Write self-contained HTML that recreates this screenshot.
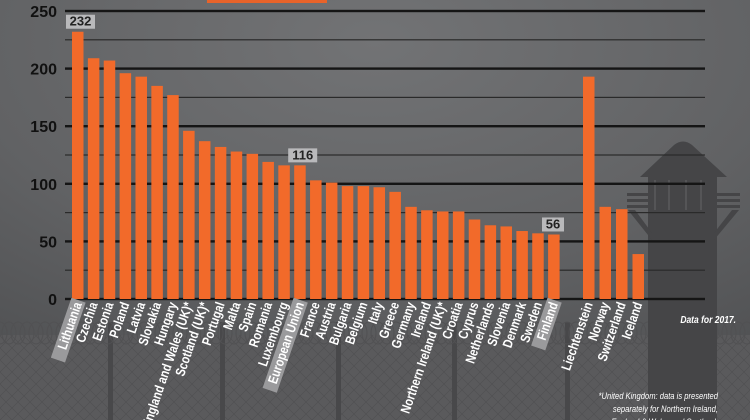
<!DOCTYPE html>
<html><head><meta charset="utf-8"><style>
html,body{margin:0;padding:0;width:750px;height:420px;overflow:hidden;background:#555}
svg{display:block}
text{font-family:"Liberation Sans",sans-serif}
</style></head><body>
<svg id="s" width="750" height="420" viewBox="0 0 750 420" xmlns="http://www.w3.org/2000/svg">
<defs>
<radialGradient id="bg" cx="0.5" cy="0.1" r="0.9">
<stop offset="0" stop-color="#727375"/><stop offset="0.6" stop-color="#616264"/><stop offset="1" stop-color="#505153"/>
</radialGradient>
<pattern id="mesh" width="12" height="12" patternUnits="userSpaceOnUse">
<path d="M0 0L12 12M12 0L0 12" stroke="#505052" stroke-width="0.7" fill="none"/>
</pattern>
</defs>
<rect width="750" height="420" fill="url(#bg)"/>
<rect x="0" y="335" width="750" height="85" fill="#5a5a5c"/>
<rect x="0" y="335" width="750" height="85" fill="url(#mesh)"/>
<g fill="#48484a"><rect x="108" y="322" width="5" height="98"/><rect x="220" y="322" width="5" height="98"/><rect x="336" y="322" width="5" height="98"/><rect x="452" y="322" width="5" height="98"/><rect x="565" y="322" width="5" height="98"/></g>
<g id="wire" fill="none" stroke="#515153" stroke-width="1"></g>
<!-- tower -->
<g fill="#454547">
<path d="M640 177 L674 145 Q683 138 692 145 L727 177 Z"/>
<rect x="648" y="177" width="69" height="243"/>
<rect x="627" y="193" width="113" height="3"/><rect x="627" y="199" width="113" height="3"/><rect x="627" y="205" width="113" height="3"/>
<path d="M628 210 L652 240 L652 233 L635 210Z M739 210 L714 240 L714 233 L732 210Z"/>
</g>
<g fill="#555557"><rect x="654" y="180" width="2" height="30"/><rect x="668" y="180" width="2" height="30"/><rect x="685" y="180" width="2" height="30"/><rect x="700" y="180" width="2" height="30"/></g>
<rect x="207" y="0" width="120" height="3" fill="#e8632a"/>
<g id="grid"></g>
<g id="bars"></g>
<g id="labs"></g>
<text x="736" y="323" fill="#fff" font-size="10" font-weight="bold" font-style="italic" text-anchor="end" transform="translate(736 323) scale(0.85 1) translate(-736 -323)">Data for 2017.</text>
<g fill="#fff" font-size="9.5" font-style="italic" text-anchor="end">
<text x="718" y="399" transform="translate(718 399) scale(0.8 1) translate(-718 -399)">*United Kingdom: data is presented</text>
<text x="718" y="412" transform="translate(718 412) scale(0.8 1) translate(-718 -412)">separately for Northern Ireland,</text>
<text x="718" y="425" transform="translate(718 425) scale(0.8 1) translate(-718 -425)">England &amp; Wales and Scotland.</text>
</g>
</svg>
<script>
var NS="http://www.w3.org/2000/svg";
function el(p,t,a,txt){var e=document.createElementNS(NS,t);for(var k in a)e.setAttribute(k,a[k]);if(txt!=null)e.textContent=txt;p.appendChild(e);return e;}
var Y0=299,K=1.152;
var grid=document.getElementById('grid');
for(var v=0;v<=250;v+=25){var y=Y0-v*K;var major=v%50==0;
el(grid,'rect',{x:65,y:y-(major?1.2:0.6),width:640,height:major?2.4:1.2,fill:major?'#151515':'#2a2a2a'});
if(major)el(grid,'text',{x:57,y:y+6,'font-size':16,'font-weight':'bold',fill:'#111','text-anchor':'end'},String(v));}
var d=[["Lithuania",232],["Czechia",209],["Estonia",207],["Poland",196],["Latvia",193],["Slovakia",185],["Hungary",177],["England and Wales (UK)*",146],["Scotland (UK)*",137],["Portugal",132],["Malta",128],["Spain",126],["Romania",119],["Luxembourg",116],["European Union",116],["France",103],["Austria",101],["Bulgaria",98],["Belgium",98],["Italy",97],["Greece",93],["Germany",80],["Ireland",77],["Northern Ireland (UK)*",76],["Croatia",76],["Cyprus",69],["Netherlands",64],["Slovenia",63],["Denmark",59],["Sweden",57],["Finland",56],["Liechtenstein",193],["Norway",80],["Switzerland",78],["Iceland",39]];
var bars=document.getElementById('bars'),labs=document.getElementById('labs');
var hl={"Lithuania":1,"European Union":1,"Finland":1};
d.forEach(function(r,i){var x=i<31?72+i*15.87:583+(i-31)*16.5;var h=r[1]*K;
el(bars,'rect',{x:x,y:Y0-h,width:11.5,height:h,fill:'#f26a2a'});
var cx=x+10,cy=304;
var g=el(labs,'g',{transform:'translate('+cx+' '+cy+') rotate(-71) scale(0.82 1)'});
if(hl[r[0]]){var w=r[0].length*7.8+4;el(g,'rect',{x:-w,y:-12,width:w+3,height:15,fill:'#9a9a9c'});}
el(g,'text',{x:0,y:0,'font-size':13.5,'font-weight':'bold',fill:'#fff','text-anchor':'end'},r[0]);
});
[[72,232,"232"],[294.2,116,"116"],[548,56,"56"]].forEach(function(a){var y=Y0-a[1]*K-4;
el(labs,'rect',{x:a[0]-6,y:y-13,width:a[2].length*7+8,height:14,fill:'#b9b9bb'});
el(labs,'text',{x:a[0]-2+ (a[2].length*7+8)/2-4,y:y-2,'font-size':13,'font-weight':'bold',fill:'#222','text-anchor':'middle'},a[2]);});
var w=document.getElementById('wire');
for(var x=0;x<750;x+=9){el(w,'ellipse',{cx:x,cy:333,rx:7,ry:11});}
</script>
</body></html>
